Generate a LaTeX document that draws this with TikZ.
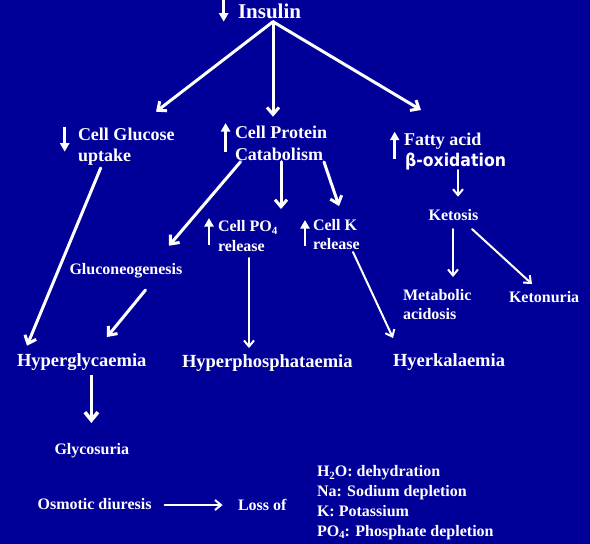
\documentclass[tikz,border=0pt]{standalone}
\usepackage{fontspec}
\setmainfont{Liberation Serif}
\newfontfamily\betafont[FakeStretch=0.9]{DejaVu Sans}
\usetikzlibrary{arrows.meta,calc}
\definecolor{bgblue}{RGB}{0,0,153}
\newcommand{\fs}[1]{\fontsize{#1}{#1}\selectfont}
\newcommand{\sbs}[1]{\raisebox{-0.35ex}{\fs{11}#1}}
\begin{document}
\begin{tikzpicture}[x=1pt,y=-1pt,
  txt/.style={text=white,inner sep=0pt,outer sep=0pt,anchor=base west,font=\bfseries\fs{16}},
  headtxt/.style={txt,font=\bfseries\fs{18.5}},
  big/.style={draw=white,line width=3pt,line cap=round,-{Straight Barb[length=7pt,width=12pt]}},
  thin/.style={draw=white,line width=2pt,line cap=round,-{Straight Barb[length=6pt,width=10pt]}},
  heavy/.style={draw=white,line width=3.6pt,-{Straight Barb[length=8pt,width=13pt]}},
  glyph/.style={draw=white,line width=2.7pt,-{Triangle[length=8.5pt,width=9pt]}}
]
\useasboundingbox (0,0) rectangle (590,544);
\fill[bgblue] (0,0) rectangle (590,544);

% text nodes
\node[txt,font=\bfseries\fs{21}] (ins) at (238,18.5) {Insulin};
\node[headtxt,font=\bfseries\fs{18}] (cg1) at (78,140.5) {Cell Glucose};
\node[headtxt,font=\bfseries\fs{18}] (cg2) at (78,161.5) {uptake};
\node[headtxt,font=\bfseries\fs{18}] (cp1) at (235,138.5) {Cell Protein};
\node[headtxt,font=\bfseries\fs{18}] (cp2) at (235,160) {Catabolism};
\node[headtxt,font=\bfseries\fs{18}] (fa1) at (404,145) {Fatty acid};
\node[txt,font=\betafont\bfseries\fs{17.5}] (fa2) at (405,166.5) {β-oxidation};
\node[txt] (ket) at (428.6,220) {Ketosis};
\node[txt] (po1) at (218,231.5) {Cell PO\sbs{4}};
\node[txt] (po2) at (218,251.5) {release};
\node[txt] (k1) at (313,230) {Cell K};
\node[txt] (k2) at (313,249) {release};
\node[txt] (glu) at (69.5,274) {Gluconeogenesis};
\node[txt] (met1) at (403,300.5) {Metabolic};
\node[txt] (met2) at (403,319) {acidosis};
\node[txt] (keto) at (509,302) {Ketonuria};
\node[headtxt] (hg) at (17,366) {Hyperglycaemia};
\node[headtxt] (hp) at (182,367) {Hyperphosphataemia};
\node[headtxt] (hk) at (393,366) {Hyerkalaemia};
\node[txt] (gly) at (54.5,454) {Glycosuria};
\node[txt] (osm) at (37.6,509) {Osmotic diuresis};
\node[txt] (loss) at (238,510.5) {Loss of};
\node[txt] (l1) at (317,476.5) {H\sbs{2}O: dehydration};
\node[txt] (l2) at (317,496.5) {Na: Sodium depletion};
\node[txt] (l3) at (317,516.5) {K: Potassium};
\node[txt] (l4) at (317,536) {PO\sbs{4}: Phosphate depletion};

% small up/down glyph arrows
\draw[glyph] ($(ins.base west)+(-14.3,-18.5)$) -- ($(ins.base west)+(-14.3,3.2)$);
\draw[glyph] ($(cg1.base west)+(-13.3,-13.8)$) -- ($(cg1.base west)+(-13.3,11.2)$);
\draw[glyph] ($(cp1.base west)+(-9.4,13.2)$) -- ($(cp1.base west)+(-9.4,-15.5)$);
\draw[glyph] ($(fa1.base west)+(-9.3,14)$) -- ($(fa1.base west)+(-9.3,-13.3)$);
\draw[glyph] ($(po1.base west)+(-9,13.5)$) -- ($(po1.base west)+(-9,-13.5)$);
\draw[glyph] ($(k1.base west)+(-8,16)$) -- ($(k1.base west)+(-8,-10)$);

% connectors
\coordinate (insA) at ($(ins.base west)+(35,3.2)$);
\draw[big] (insA) -- ($(cg1.base west)+(78,-28.8)$);
\draw[big] (insA) -- ($(cp1.base west)+(38,-21.8)$);
\draw[big] (insA) -- ($(fa1.base west)+(17,-35)$);
\draw[big] ($(cg2.base west)+(22.7,6.5)$) -- ($(hg.base west)+(10,-20.3)$);
\draw[big] ($(cp2.base west)+(5.6,1.7)$) -- ($(glu.base west)+(99.5,-28.3)$);
\draw[big] ($(cp2.base west)+(46,1.7)$) -- ($(po1.base west)+(63,-22.5)$);
\draw[big] ($(cp2.base west)+(89,2)$) -- ($(k1.base west)+(26,-24)$);
\draw[thin] ($(fa2.base west)+(53,3.5)$) -- ($(ket.base west)+(29.4,-23.3)$);
\draw[thin] ($(po2.base west)+(31,6.5)$) -- ($(hp.base west)+(67,-19)$);
\draw[thin] ($(k2.base west)+(40,3)$) -- ($(hk.base west)+(0,-28)$);
\draw[big] ($(glu.base west)+(76,16)$) -- ($(hg.base west)+(90,-29)$);
\draw[thin] ($(ket.base west)+(24.4,9)$) -- ($(met1.base west)+(50,-23.5)$);
\draw[thin] ($(ket.base west)+(43.4,9)$) -- ($(keto.base west)+(23,-18)$);
\draw[heavy] ($(hg.base west)+(74.4,9)$) -- ($(gly.base west)+(36.9,-31)$);
\draw[thin] ($(osm.base west)+(127.1,-4)$) -- ($(loss.base west)+(-15.4,-5.5)$);
\end{tikzpicture}
\end{document}
